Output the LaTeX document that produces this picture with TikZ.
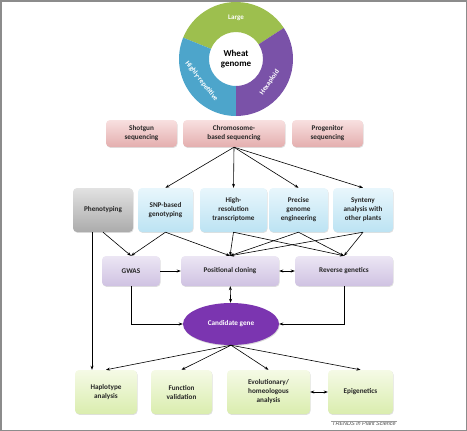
\documentclass[tikz,border=0pt]{standalone}
\usepackage{fontspec}
\setmainfont{Carlito}
\newfontfamily\trendsfont{Liberation Sans}
\usetikzlibrary{arrows.meta,positioning,calc,shapes.geometric,shadows}
\definecolor{ringgreen}{HTML}{9DBF4E}
\definecolor{ringblue}{HTML}{4DA5CB}
\definecolor{ringpurple}{HTML}{7A52A8}
\definecolor{seqtop}{HTML}{F8E0E0}
\definecolor{seqbot}{HTML}{E4AEAE}
\definecolor{tooltop}{HTML}{E8F6FC}
\definecolor{toolbot}{HTML}{BCE3F3}
\definecolor{phentop}{HTML}{E2E2E2}
\definecolor{phenbot}{HTML}{ABABAB}
\definecolor{maptop}{HTML}{ECE6F4}
\definecolor{mapbot}{HTML}{CFC2E2}
\definecolor{apptop}{HTML}{F5FAE6}
\definecolor{appbot}{HTML}{DAEDAE}
\definecolor{candpurple}{HTML}{7B35B0}
\begin{document}
\begin{tikzpicture}[x=1pt,y=1pt,>={Stealth[length=4pt,width=3pt]},
  font=\bfseries\fontsize{7.2}{9}\selectfont,
  bx/.style={rounded corners=4pt,align=center,inner sep=2pt,text=black!85,
    drop shadow={opacity=0.25,shadow xshift=0.6pt,shadow yshift=-0.9pt}},
  sq/.style={bx,top color=seqtop,bottom color=seqbot,minimum height=27pt},
  tl/.style={bx,top color=tooltop,bottom color=toolbot,minimum height=44pt},
  ph/.style={bx,top color=phentop,bottom color=phenbot,minimum height=44pt},
  mp/.style={bx,top color=maptop,bottom color=mapbot,minimum height=30pt},
  ap/.style={bx,top color=apptop,bottom color=appbot,minimum height=44pt},
  rl/.style={text=white,font=\bfseries\fontsize{7}{8}\selectfont},
  lk/.style={->,line width=0.6pt}]
\useasboundingbox (0,0) rectangle (467,-431);
\draw[black!45,line width=1.5pt] (0.75,-0.75) rectangle (466.25,-430.25);
% genome ring
\coordinate (g) at (236,-59);
\fill[ringgreen] ($(g)+(33:57)$) arc[start angle=33,end angle=158,radius=57]
  -- ($(g)+(158:27)$) arc[start angle=158,end angle=33,radius=27] -- cycle;
\fill[ringblue] ($(g)+(158:57)$) arc[start angle=158,end angle=270,radius=57]
  -- ($(g)+(270:27)$) arc[start angle=270,end angle=158,radius=27] -- cycle;
\fill[ringpurple] ($(g)+(270:57)$) arc[start angle=270,end angle=393,radius=57]
  -- ($(g)+(393:27)$) arc[start angle=393,end angle=270,radius=27] -- cycle;
\node[align=center,font=\bfseries\fontsize{9}{10.5}\selectfont] (wheat) at (g) {Wheat\\genome};
\node[rl] (large) at ($(g)+(90:41)$) {Large};
\node[rl,rotate=-52] (hirep) at ($(g)+(213:41)$) {Highly-repetitive};
\node[rl,rotate=55] (hexa) at ($(g)+(325:41)$) {Hexaploid};
% sequencing
\node[sq,minimum width=71pt] (shotgun) at (141.5,-133.5) {Shotgun\\sequencing};
\node[sq,minimum width=102pt] (chrom) at (234,-133.5) {Chromosome-\\based sequencing};
\node[sq,minimum width=71pt] (progen) at (327.5,-133.5) {Progenitor\\sequencing};
% tools
\node[ph,minimum width=60pt] (pheno) at (103,-210) {Phenotyping};
\node[tl,minimum width=55pt] (snp) at (165.5,-210) {SNP-based\\genotyping};
\node[tl,minimum width=67pt] (hires) at (233.5,-210) {High-\\resolution\\transcriptome};
\node[tl,minimum width=59pt] (precise) at (298.5,-210) {Precise\\genome\\engineering};
\node[tl,minimum width=60pt] (synteny) at (363,-210) {Synteny\\analysis with\\other plants};
% mapping
\node[mp,minimum width=58pt] (gwas) at (131,-271) {GWAS};
\node[mp,minimum width=98pt] (poscl) at (230,-271) {Positional cloning};
\node[mp,minimum width=98pt] (revgen) at (344,-271) {Reverse genetics};
\node[ellipse,minimum width=96pt,minimum height=42pt,fill=candpurple,text=white,
  drop shadow={opacity=0.3,shadow xshift=0.6pt,shadow yshift=-1pt}] (cand) at (231,-324) {Candidate gene};
% applications
\node[ap,minimum width=62pt] (haplo) at (106,-392) {Haplotype\\analysis};
\node[ap,minimum width=61pt] (funcval) at (181.5,-392) {Function\\validation};
\node[ap,minimum width=83pt] (evol) at (268.5,-392) {Evolutionary/\\homeologous\\analysis};
\node[ap,minimum width=65pt] (epigen) at (360.5,-392) {Epigenetics};
\node[font=\trendsfont\mdseries\itshape\fontsize{5.5}{6}\selectfont,text=black!70,inner sep=1pt] (src) at (364,-424) {TRENDS in Plant Science};
\draw[black!40,line width=0.3pt] (src.north west) -- (src.north east);
% arrows
\foreach \t in {snp,hires,precise,synteny}
  \draw[lk] (chrom.south) -- (\t.north);
\draw[lk] (pheno.south) -- (gwas.north);
\draw[lk] (snp.south) -- (gwas.north);
\draw[lk] (snp.south) -- (poscl.north);
\foreach \s in {hires,precise,synteny} {
  \draw[lk] (\s.south) -- (poscl.north);
  \draw[lk] (\s.south) -- (revgen.north);
}
\draw[lk] ([xshift=-11pt]pheno.south) coordinate (pd) -- (pd |- haplo.north);
\draw[lk] (gwas) -- (poscl);
\draw[lk,<->] (poscl) -- (revgen);
\draw[lk,<->] (poscl) -- (cand);
\draw[lk] (gwas.south) |- (cand.west);
\draw[lk] (revgen.south) |- (cand.east);
\foreach \t in {haplo,funcval,evol,epigen}
  \draw[lk] (cand.south) -- (\t.north);
\draw[lk,<->] (evol) -- (epigen);
\end{tikzpicture}
\end{document}
